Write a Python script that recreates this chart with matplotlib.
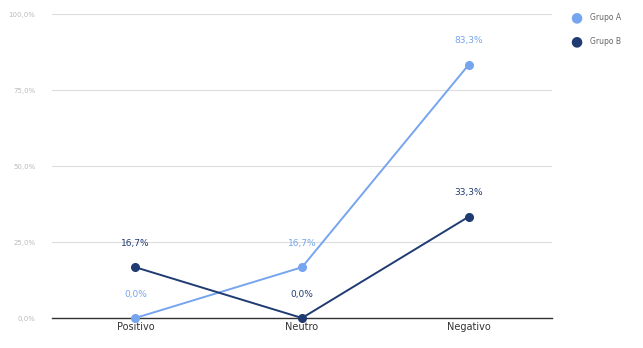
import matplotlib
matplotlib.use("Agg")
import matplotlib.pyplot as plt

categories = ["Positivo", "Neutro", "Negativo"]
series_names = ["Grupo A", "Grupo B"]
grupo_a = [0.0, 16.7, 83.3]
grupo_b = [16.7, 0.0, 33.3]
y_ticks = [0, 25, 50, 75, 100]
y_tick_labels = ["0,0%", "25,0%", "50,0%", "75,0%", "100,0%"]

colors = ["#76a5ef", "#1f3b72"]

fig = plt.figure(figsize=(6.43, 3.48), dpi=100)
ax = fig.add_axes([52/643, 1-318/348, 500/643, 304/348])

x = list(range(len(categories)))
for vals, name, c in zip([grupo_a, grupo_b], series_names, colors):
    ax.plot(x, vals, color=c, lw=1.4, marker="o", ms=5.5, label=name, zorder=3, clip_on=False)
    for xi, v in zip(x, vals):
        lbl = f"{v:.1f}%".replace(".", ",")
        ax.annotate(lbl, (xi, v), xytext=(0, 14), textcoords="offset points",
                    ha="center", va="bottom", fontsize=6.5, color=c)

ax.set_xlim(-0.5, 2.5)
ax.set_ylim(0, 100)
ax.set_yticks(y_ticks)
ax.set_yticklabels(y_tick_labels, fontsize=5, color="#bbbbbb")
ax.set_xticks(x)
ax.set_xticklabels(categories, fontsize=7, color="#333333")
ax.tick_params(axis="both", length=0)
ax.tick_params(axis="y", pad=12)
ax.tick_params(axis="x", pad=3)
ax.grid(axis="y", color="#dddddd", lw=0.8, zorder=0)
for s in ["top", "right", "left"]:
    ax.spines[s].set_visible(False)
ax.spines["bottom"].set_color("#333333")
ax.spines["bottom"].set_linewidth(1.0)

# legend
for i, (name, c) in enumerate(zip(series_names, colors)):
    yy = 1 - (17 + 24*i)/348
    fig.text(576/643, yy, "●", color=c, fontsize=10, ha="center", va="center")
    fig.text(590/643, yy, name, color="#666666", fontsize=5.5, ha="left", va="center")

fig.savefig("out.png", dpi=100, facecolor="white")
